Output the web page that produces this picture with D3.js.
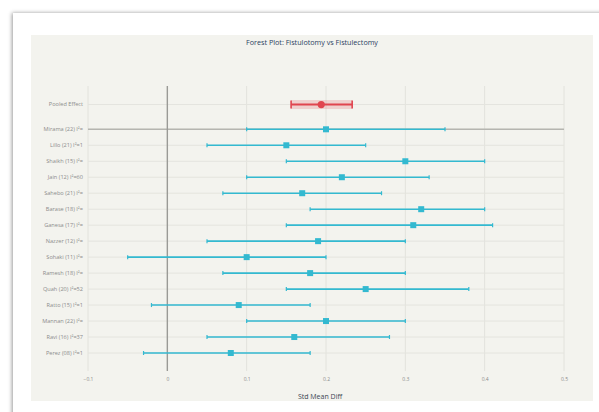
<!DOCTYPE html>
<html>
<head>
<meta charset="utf-8">
<script src="https://cdn.jsdelivr.net/npm/d3@7"></script>
<style>
  body { margin: 0; background: #fff; width: 599px; height: 412px; overflow: hidden; position: relative; font-family: "Open Sans", sans-serif; }
  #card { position: absolute; left: 13px; top: 13px; width: 620px; height: 430px; background: #fff; box-shadow: -1px 0 4px rgba(0,0,0,0.4); }
  #chart { position: absolute; left: 0; top: 0; }
</style>
</head>
<body>
<div id="card"></div>
<div id="chart"></div>
<script>
const studies = ["Mirama (22) I²=", "Lillo (21) I²=1", "Shaikh (15) I²=", "Jain (12) I²=60", "Sahebo (21) I²=",
  "Barase (18) I²=", "Ganesa (17) I²=", "Nazzer (12) I²=", "Sohaki (11) I²=", "Ramesh (18) I²=",
  "Quah (20) I²=52", "Ratto (15) I²=1", "Mannan (22) I²=", "Ravi (16) I²=37", "Perez (08) I²=1"];
const smd   = [0.20, 0.15, 0.30, 0.22, 0.17, 0.32, 0.31, 0.19, 0.10, 0.18, 0.25, 0.09, 0.20, 0.16, 0.08];
const lower = [0.10, 0.05, 0.15, 0.10, 0.07, 0.18, 0.15, 0.05, -0.05, 0.07, 0.15, -0.02, 0.10, 0.05, -0.03];
const upper = [0.35, 0.25, 0.40, 0.33, 0.27, 0.40, 0.41, 0.30, 0.20, 0.30, 0.38, 0.18, 0.30, 0.28, 0.18];
const pooled = { label: "Pooled Effect", est: 0.194, lo: 0.156, hi: 0.233 };
const xTicks = [-0.1, 0, 0.1, 0.2, 0.3, 0.4, 0.5];

const width = 599, height = 412;
const teal = "#33b9d0", red = "#e0454f";

const svg = d3.select("#chart").append("svg")
    .attr("width", width)
    .attr("height", height);

// panel background
svg.append("rect")
    .attr("x", 31).attr("y", 35)
    .attr("width", 562).attr("height", 366)
    .attr("fill", "#f3f3ee");

const x = d3.scaleLinear().domain([-0.1, 0.5]).range([88, 564]);
// rows by index, pooled sits 1.55 rows above the first study
const y = d3.scaleLinear().domain([0, studies.length - 1]).range([129.3, 353]);
const pooledY = y(-1.55);
const plotTop = 86, plotBottom = 371;

// vertical grid
svg.append("g")
    .selectAll("line")
    .data(xTicks.filter(d => d !== 0))
    .enter()
    .append("line")
    .attr("x1", d => x(d)).attr("x2", d => x(d))
    .attr("y1", plotTop).attr("y2", plotBottom)
    .attr("stroke", "#e2e2dc")
    .attr("stroke-width", 1);

// horizontal grid
const rowYs = [pooledY].concat(studies.map((s, i) => y(i)));
svg.append("g")
    .selectAll("line")
    .data(rowYs)
    .enter()
    .append("line")
    .attr("x1", x(-0.1)).attr("x2", x(0.5))
    .attr("y1", d => d).attr("y2", d => d)
    .attr("stroke", "#e4e4de")
    .attr("stroke-width", 1);

// separator line on first study row
svg.append("line")
    .attr("x1", x(-0.1)).attr("x2", x(0.5))
    .attr("y1", y(0)).attr("y2", y(0))
    .attr("stroke", "#b5b5b0")
    .attr("stroke-width", 1.4);

// zero line
svg.append("line")
    .attr("x1", x(0)).attr("x2", x(0))
    .attr("y1", plotTop).attr("y2", plotBottom)
    .attr("stroke", "#9a9a96")
    .attr("stroke-width", 1.4);

// x axis tick labels
const xAxis = d3.axisBottom(x).tickValues(xTicks).tickSize(0)
    .tickFormat(d => d === 0 ? "0" : d3.format(".1f")(d).replace("-", "\u2212"));
const gx = svg.append("g")
    .attr("transform", `translate(0, ${plotBottom})`)
    .call(xAxis);
gx.select(".domain").remove();
gx.selectAll("text")
    .attr("dy", "0")
    .attr("y", 10)
    .style("font-family", "Open Sans")
    .style("font-size", "5px")
    .style("fill", "#8a8a8a");

// row labels
svg.append("g")
    .selectAll("text")
    .data([pooled.label].concat(studies))
    .enter()
    .append("text")
    .attr("x", 83)
    .attr("y", (d, i) => rowYs[i] + 1.9)
    .attr("text-anchor", "end")
    .style("font-size", "5.6px")
    .style("fill", "#8c8c8c")
    .text(d => d);

// study CIs
const rows = studies.map((s, i) => ({ name: s, est: smd[i], lo: lower[i], hi: upper[i], yy: y(i) }));
const gs = svg.append("g");
gs.selectAll(".ci")
    .data(rows)
    .enter()
    .append("line")
    .attr("x1", d => x(d.lo)).attr("x2", d => x(d.hi))
    .attr("y1", d => d.yy).attr("y2", d => d.yy)
    .attr("stroke", teal)
    .attr("stroke-width", 1.6);
["lo", "hi"].forEach(k => {
  gs.selectAll(".cap-" + k)
      .data(rows)
      .enter()
      .append("line")
      .attr("x1", d => x(d[k])).attr("x2", d => x(d[k]))
      .attr("y1", d => d.yy - 2).attr("y2", d => d.yy + 2)
      .attr("stroke", teal)
      .attr("stroke-width", 1.2);
});
gs.selectAll("rect")
    .data(rows)
    .enter()
    .append("rect")
    .attr("x", d => x(d.est) - 3)
    .attr("y", d => d.yy - 3)
    .attr("width", 6).attr("height", 6)
    .attr("fill", teal);

// pooled effect
svg.append("rect")
    .attr("x", x(pooled.lo)).attr("y", pooledY - 4.5)
    .attr("width", x(pooled.hi) - x(pooled.lo)).attr("height", 9)
    .attr("fill", red).attr("fill-opacity", 0.2);
svg.append("line")
    .attr("x1", x(pooled.lo)).attr("x2", x(pooled.hi))
    .attr("y1", pooledY).attr("y2", pooledY)
    .attr("stroke", red).attr("stroke-width", 2);
[pooled.lo, pooled.hi].forEach(v => {
  svg.append("line")
      .attr("x1", x(v)).attr("x2", x(v))
      .attr("y1", pooledY - 4).attr("y2", pooledY + 4)
      .attr("stroke", red).attr("stroke-width", 1.6);
});
svg.append("circle")
    .attr("cx", x(pooled.est)).attr("cy", pooledY)
    .attr("r", 3.6)
    .attr("fill", red);

// title
svg.append("text")
    .attr("x", 312).attr("y", 44.5)
    .attr("text-anchor", "middle")
    .style("font-size", "7.2px")
    .style("font-weight", "500")
    .style("fill", "#2a3f5f")
    .text("Forest Plot: Fistulotomy vs Fistulectomy");

// x axis title
svg.append("text")
    .attr("x", 320).attr("y", 399)
    .attr("text-anchor", "middle")
    .style("font-size", "7px")
    .style("fill", "#3a4652")
    .text("Std Mean Diff");
</script>
</body>
</html>
